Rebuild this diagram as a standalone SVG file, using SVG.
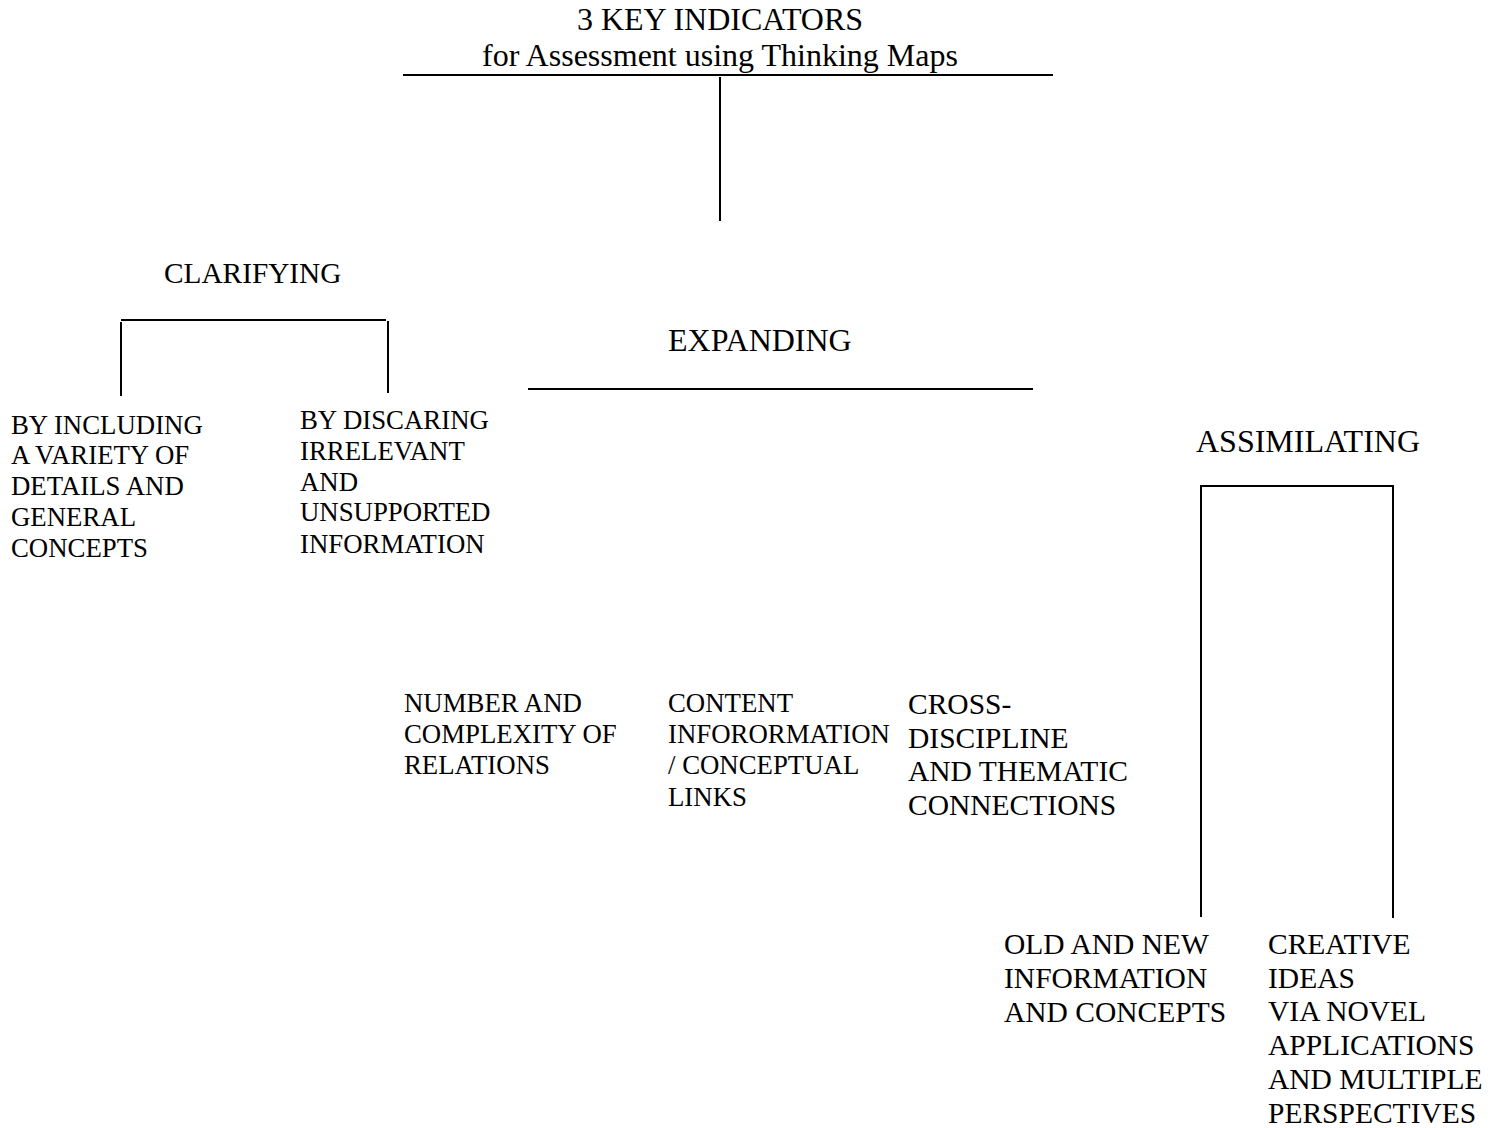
<svg xmlns="http://www.w3.org/2000/svg" width="1501" height="1128" viewBox="0 0 1501 1128">
  <style>
    text { font-family: "Liberation Serif", "Times New Roman", serif; fill: #000; }
    .title { font-size: 32px; text-anchor: middle; }
    .head { font-size: 32px; }
    .head29 { font-size: 29.3px; }
    .item { font-size: 26.8px; }
    .item28 { font-size: 29.5px; }
    .wire { stroke: #000; stroke-width: 2; fill: none; }
  </style>
  <rect width="1501" height="1128" fill="#fff"/>

  <!-- connectors: title bar, stem and brackets -->
  <g id="connectors">
    <line class="wire" x1="403" y1="75" x2="1053" y2="75"/>
    <line class="wire" x1="720" y1="77" x2="720" y2="221"/>
    <line class="wire" x1="121" y1="320" x2="386" y2="320"/>
    <line class="wire" x1="121" y1="322" x2="121" y2="396"/>
    <line class="wire" x1="388" y1="321" x2="388" y2="393"/>
    <line class="wire" x1="528" y1="389" x2="1033" y2="389"/>
    <polyline class="wire" points="1201,917 1201,486 1393,486 1393,918"/>
  </g>

  <g id="title">
    <text class="title"><tspan x="720" y="30">3 KEY INDICATORS</tspan><tspan x="720" y="66">for Assessment using Thinking Maps</tspan></text>
  </g>

  <g id="clarifying">
    <text class="head29" x="164" y="283">CLARIFYING</text>
  </g>
  <g id="clarifying-including">
    <text class="item"><tspan x="11" y="434">BY INCLUDING</tspan><tspan x="11" y="464">A VARIETY OF</tspan><tspan x="11" y="495">DETAILS AND</tspan><tspan x="11" y="526">GENERAL</tspan><tspan x="11" y="557">CONCEPTS</tspan></text>
  </g>
  <g id="clarifying-discarding">
    <text class="item"><tspan x="300" y="429">BY DISCARING</tspan><tspan x="300" y="460">IRRELEVANT</tspan><tspan x="300" y="491">AND</tspan><tspan x="300" y="521">UNSUPPORTED</tspan><tspan x="300" y="553">INFORMATION</tspan></text>
  </g>

  <g id="expanding">
    <text class="head" x="668" y="351">EXPANDING</text>
  </g>
  <g id="expanding-relations">
    <text class="item"><tspan x="404" y="712">NUMBER AND</tspan><tspan x="404" y="743">COMPLEXITY OF</tspan><tspan x="404" y="774">RELATIONS</tspan></text>
  </g>
  <g id="expanding-links">
    <text class="item"><tspan x="668" y="712">CONTENT</tspan><tspan x="668" y="743">INFORORMATION</tspan><tspan x="668" y="774">/ CONCEPTUAL</tspan><tspan x="668" y="806">LINKS</tspan></text>
  </g>
  <g id="expanding-connections">
    <text class="item28"><tspan x="908" y="714">CROSS-</tspan><tspan x="908" y="748">DISCIPLINE</tspan><tspan x="908" y="781">AND THEMATIC</tspan><tspan x="908" y="815">CONNECTIONS</tspan></text>
  </g>

  <g id="assimilating">
    <text class="head" x="1196" y="452">ASSIMILATING</text>
  </g>
  <g id="assimilating-old-new">
    <text class="item28"><tspan x="1004" y="954">OLD AND NEW</tspan><tspan x="1004" y="988">INFORMATION</tspan><tspan x="1004" y="1022">AND CONCEPTS</tspan></text>
  </g>
  <g id="assimilating-creative">
    <text class="item28"><tspan x="1268" y="954">CREATIVE</tspan><tspan x="1268" y="988">IDEAS</tspan><tspan x="1268" y="1021">VIA NOVEL</tspan><tspan x="1268" y="1055">APPLICATIONS</tspan><tspan x="1268" y="1089">AND MULTIPLE</tspan><tspan x="1268" y="1123">PERSPECTIVES</tspan></text>
  </g>
</svg>
